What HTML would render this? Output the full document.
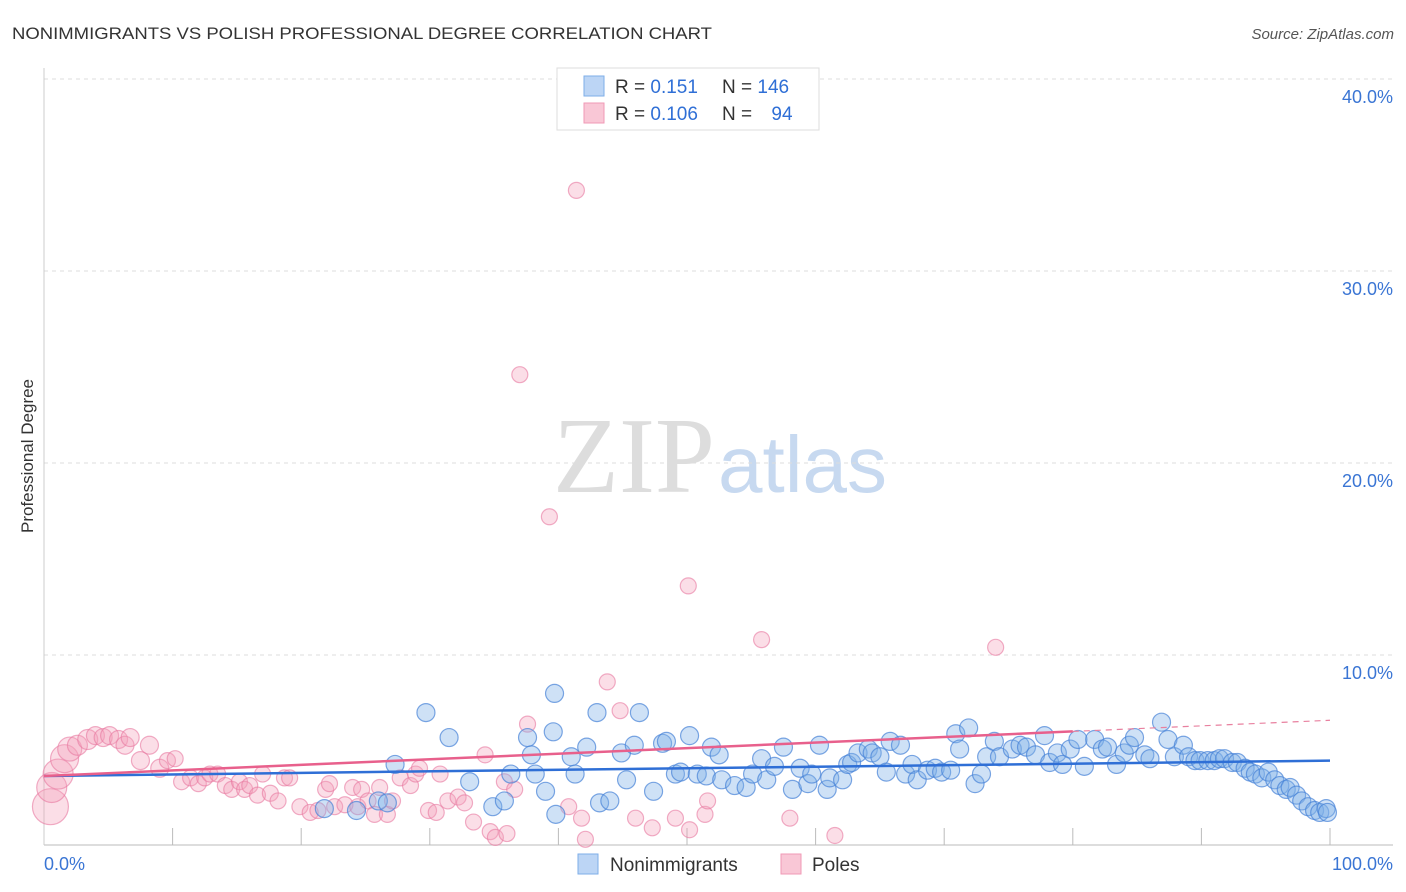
<!DOCTYPE html>
<html><head><meta charset="utf-8"><style>
body{margin:0;background:#fff;font-family:"Liberation Sans",sans-serif;}
#wrap{position:relative;width:1406px;height:892px;overflow:hidden;}
svg{position:absolute;left:0;top:0}
</style></head><body>
<div id="wrap">
<svg id="svg" width="1406" height="892">
<text x="12" y="39" font-size="17" fill="#333" textLength="700" lengthAdjust="spacingAndGlyphs">NONIMMIGRANTS VS POLISH PROFESSIONAL DEGREE CORRELATION CHART</text>
<text x="1394" y="39" font-size="15" fill="#555" font-style="italic" text-anchor="end">Source: ZipAtlas.com</text>
<text x="33" y="456" font-size="17" fill="#333" text-anchor="middle" transform="rotate(-90 33 456)">Professional Degree</text>
<text x="715" y="492" font-size="108" fill="#ddd" text-anchor="end" font-family="Liberation Serif,serif">ZIP</text>
<text x="718" y="492" font-size="80" fill="#c7d9f0">atlas</text>
<g id="grid"></g><g id="pts"></g><g id="lines"></g>
<g>
<rect x="557" y="68" width="262" height="62" fill="#fff" stroke="#ddd"/>
<rect x="584" y="76" width="20" height="20" fill="#bcd5f5" stroke="#7eaee8"/>
<rect x="584" y="103" width="20" height="20" fill="#f9c7d6" stroke="#f09ab6"/>
<text x="615" y="93" font-size="19" fill="#333">R = <tspan fill="#2f6fd6">0.151</tspan></text>
<text x="722" y="93" font-size="19" fill="#333">N = <tspan fill="#2f6fd6">146</tspan></text>
<text x="615" y="120" font-size="19" fill="#333">R = <tspan fill="#2f6fd6">0.106</tspan></text>
<text x="722" y="120" font-size="19" fill="#333">N = <tspan fill="#2f6fd6" dx="14">94</tspan></text>
</g>
<g>
<rect x="578" y="854" width="20" height="20" fill="#bcd5f5" stroke="#7eaee8"/>
<text x="610" y="871" font-size="19" fill="#333">Nonimmigrants</text>
<rect x="781" y="854" width="20" height="20" fill="#f9c7d6" stroke="#f09ab6"/>
<text x="812" y="871" font-size="19" fill="#333">Poles</text>
</g>
</svg></div>
<script>
const yTicks=[10,20,30,40];
const yTickLabels=["10.0%","20.0%","30.0%","40.0%"];
const xTickCount=10;
const blueX=[21.8,24.3,26.0,26.7,27.3,29.7,31.5,33.1,34.9,35.8,36.3,37.6,37.9,38.2,39.0,39.8,39.6,39.7,41.0,41.3,42.2,43.2,43.0,44.0,44.9,45.3,45.9,46.3,47.4,48.1,48.4,49.1,49.5,50.2,50.8,51.5,51.9,52.5,52.7,53.7,54.6,55.1,55.8,56.2,56.8,57.5,58.2,58.8,59.4,59.7,60.3,60.9,61.1,62.1,62.5,62.8,63.3,64.1,64.4,65.0,65.5,65.8,66.6,67.0,67.5,67.9,68.7,69.3,69.8,70.5,70.9,71.2,71.9,72.4,72.9,73.3,73.9,74.3,75.3,75.9,76.4,77.1,77.8,78.2,78.8,79.2,79.8,80.4,80.9,81.7,82.3,82.7,83.4,84.0,84.4,84.8,85.6,86.0,86.9,87.4,87.9,88.6,89.0,89.5,89.9,90.5,91.0,91.4,91.8,92.4,92.8,93.4,93.8,94.2,94.7,95.2,95.7,96.1,96.6,96.9,97.4,97.8,98.3,98.8,99.2,99.7,99.8];
const blueY=[2.0,1.9,2.4,2.3,4.3,7.0,5.7,3.4,2.1,2.4,3.8,5.7,4.8,3.8,2.9,1.7,6.0,8.0,4.7,3.8,5.2,2.3,7.0,2.4,4.9,3.5,5.3,7.0,2.9,5.4,5.5,3.8,3.9,5.8,3.8,3.7,5.2,4.8,3.5,3.2,3.1,3.8,4.6,3.5,4.2,5.2,3.0,4.1,3.3,3.8,5.3,3.0,3.6,3.5,4.3,4.4,4.9,5.1,4.9,4.7,3.9,5.5,5.3,3.8,4.3,3.5,4.0,4.1,3.9,4.0,5.9,5.1,6.2,3.3,3.8,4.7,5.5,4.7,5.1,5.3,5.2,4.8,5.8,4.4,4.9,4.3,5.1,5.6,4.2,5.6,5.1,5.2,4.3,4.9,5.3,5.7,4.8,4.6,6.5,5.6,4.7,5.3,4.7,4.5,4.5,4.5,4.5,4.6,4.6,4.4,4.4,4.1,3.9,3.8,3.6,3.9,3.5,3.2,3.0,3.1,2.7,2.4,2.1,1.9,1.8,2.0,1.8];
const pinkX=[0.5,0.6,1.1,1.6,2.0,2.6,3.4,4.0,4.6,5.1,5.8,6.3,6.7,7.5,8.2,9.0,9.6,10.2,10.7,11.4,12.0,12.5,12.9,13.5,14.1,14.6,15.2,15.6,16.0,16.6,17.0,17.6,18.2,18.7,19.1,19.9,20.7,21.3,21.9,22.2,22.6,23.4,24.0,24.4,24.7,25.2,25.7,26.1,26.7,27.1,27.7,28.5,28.9,29.2,29.9,30.5,30.8,31.4,32.2,32.7,33.4,34.3,34.7,35.1,35.8,36.0,36.6,37.0,37.6,39.3,40.8,41.4,41.8,42.1,43.8,44.8,46.0,47.3,49.1,50.1,50.2,51.4,51.6,55.8,58.0,61.5,74.0];
const pinkY=[2.1,3.1,3.8,4.6,5.1,5.3,5.6,5.8,5.7,5.8,5.6,5.3,5.7,4.5,5.3,4.1,4.5,4.6,3.4,3.6,3.3,3.6,3.8,3.8,3.2,3.0,3.4,3.0,3.2,2.7,3.8,2.8,2.4,3.6,3.6,2.1,1.8,1.9,3.0,3.3,2.1,2.2,3.1,2.1,3.0,2.4,1.7,3.1,1.7,2.4,3.6,3.2,3.8,4.1,1.9,1.8,3.8,2.4,2.6,2.3,1.3,4.8,0.8,0.5,3.4,0.7,3.0,24.6,6.4,17.2,2.1,34.2,1.5,0.4,8.6,7.1,1.5,1.0,1.5,13.6,0.9,1.7,2.4,10.8,1.5,0.6,10.4];
const pinkR=[18,15,15,14,12,10,10,9,9,9,9,9,9,9,9,9,8,8,8,8,8,8,8,8,8,8,8,8,8,8,8,8,8,8,8,8,8,8,8,8,8,8,8,8,8,8,8,8,8,8,8,8,8,8,8,8,8,8,8,8,8,8,8,8,8,8,8,8,8,8,8,8,8,8,8,8,8,8,8,8,8,8,8,8,8,8,8];
const blueTrend=[3.7,4.5];
const pinkTrend=[3.7,6.6];
const pinkSolidEnd=80;
const X0=44,X1=1330,Y0=847,PPU=19.2;
const sx=v=>X0+(X1-X0)*v/100, sy=v=>Y0-v*PPU;
const NS="http://www.w3.org/2000/svg";
function mk(tag,attrs,parent){const e=document.createElementNS(NS,tag);for(const k in attrs)e.setAttribute(k,attrs[k]);parent.appendChild(e);return e;}
const grid=document.getElementById('grid'),pts=document.getElementById('pts'),lines=document.getElementById('lines');
yTicks.forEach((t,i)=>{
 const l=mk('line',{x1:X0,x2:1393,y1:sy(t),y2:sy(t),stroke:'#ddd','stroke-dasharray':'4,4'},grid);
 
 
 const tx=mk('text',{x:1393,y:sy(t)+24,'font-size':18,fill:'#3a75d4','text-anchor':'end'},grid);
 tx.textContent=yTickLabels[i];
 
 
});
const ax=mk('line',{x1:X0,x2:1393,y1:845,y2:845,stroke:'#bbb'},grid);


const ay=mk('line',{x1:X0,x2:X0,y1:68,y2:845,stroke:'#ccc'},grid);


for(let i=1;i<=xTickCount;i++){
 const t=mk('line',{x1:sx(i*10),x2:sx(i*10),y1:828,y2:845,stroke:'#bbb'},grid);
 
 
}
const xl0=mk('text',{x:44,y:870,'font-size':18,fill:'#3a75d4'},grid);xl0.textContent='0.0%';


const xl1=mk('text',{x:1393,y:870,'font-size':18,fill:'#3a75d4','text-anchor':'end'},grid);xl1.textContent='100.0%';


pinkX.forEach((x,i)=>{
 const c=mk('circle',{cx:sx(x),cy:sy(pinkY[i]),r:pinkR[i],fill:'rgba(244,160,185,0.35)',stroke:'rgba(232,120,160,0.6)','stroke-width':1.2},pts);
 
 
});
blueX.forEach((x,i)=>{
 const c=mk('circle',{cx:sx(x),cy:sy(blueY[i]),r:9,fill:'rgba(126,176,232,0.38)',stroke:'rgba(70,130,215,0.7)','stroke-width':1.2},pts);
 
 
});
const bl=mk('line',{x1:sx(0),y1:sy(blueTrend[0]),x2:sx(100),y2:sy(blueTrend[1]),stroke:'#2f6fd6','stroke-width':2.5},lines);


const pe=pinkTrend[0]+(pinkTrend[1]-pinkTrend[0])*pinkSolidEnd/100;
const pl=mk('line',{x1:sx(0),y1:sy(pinkTrend[0]),x2:sx(pinkSolidEnd),y2:sy(pe),stroke:'#e8608c','stroke-width':2.5},lines);


const pd=mk('line',{x1:sx(pinkSolidEnd),y1:sy(pe),x2:sx(100),y2:sy(pinkTrend[1]),stroke:'#e8809f','stroke-width':1.2,'stroke-dasharray':'6,5'},lines);


</script>
</body></html>
